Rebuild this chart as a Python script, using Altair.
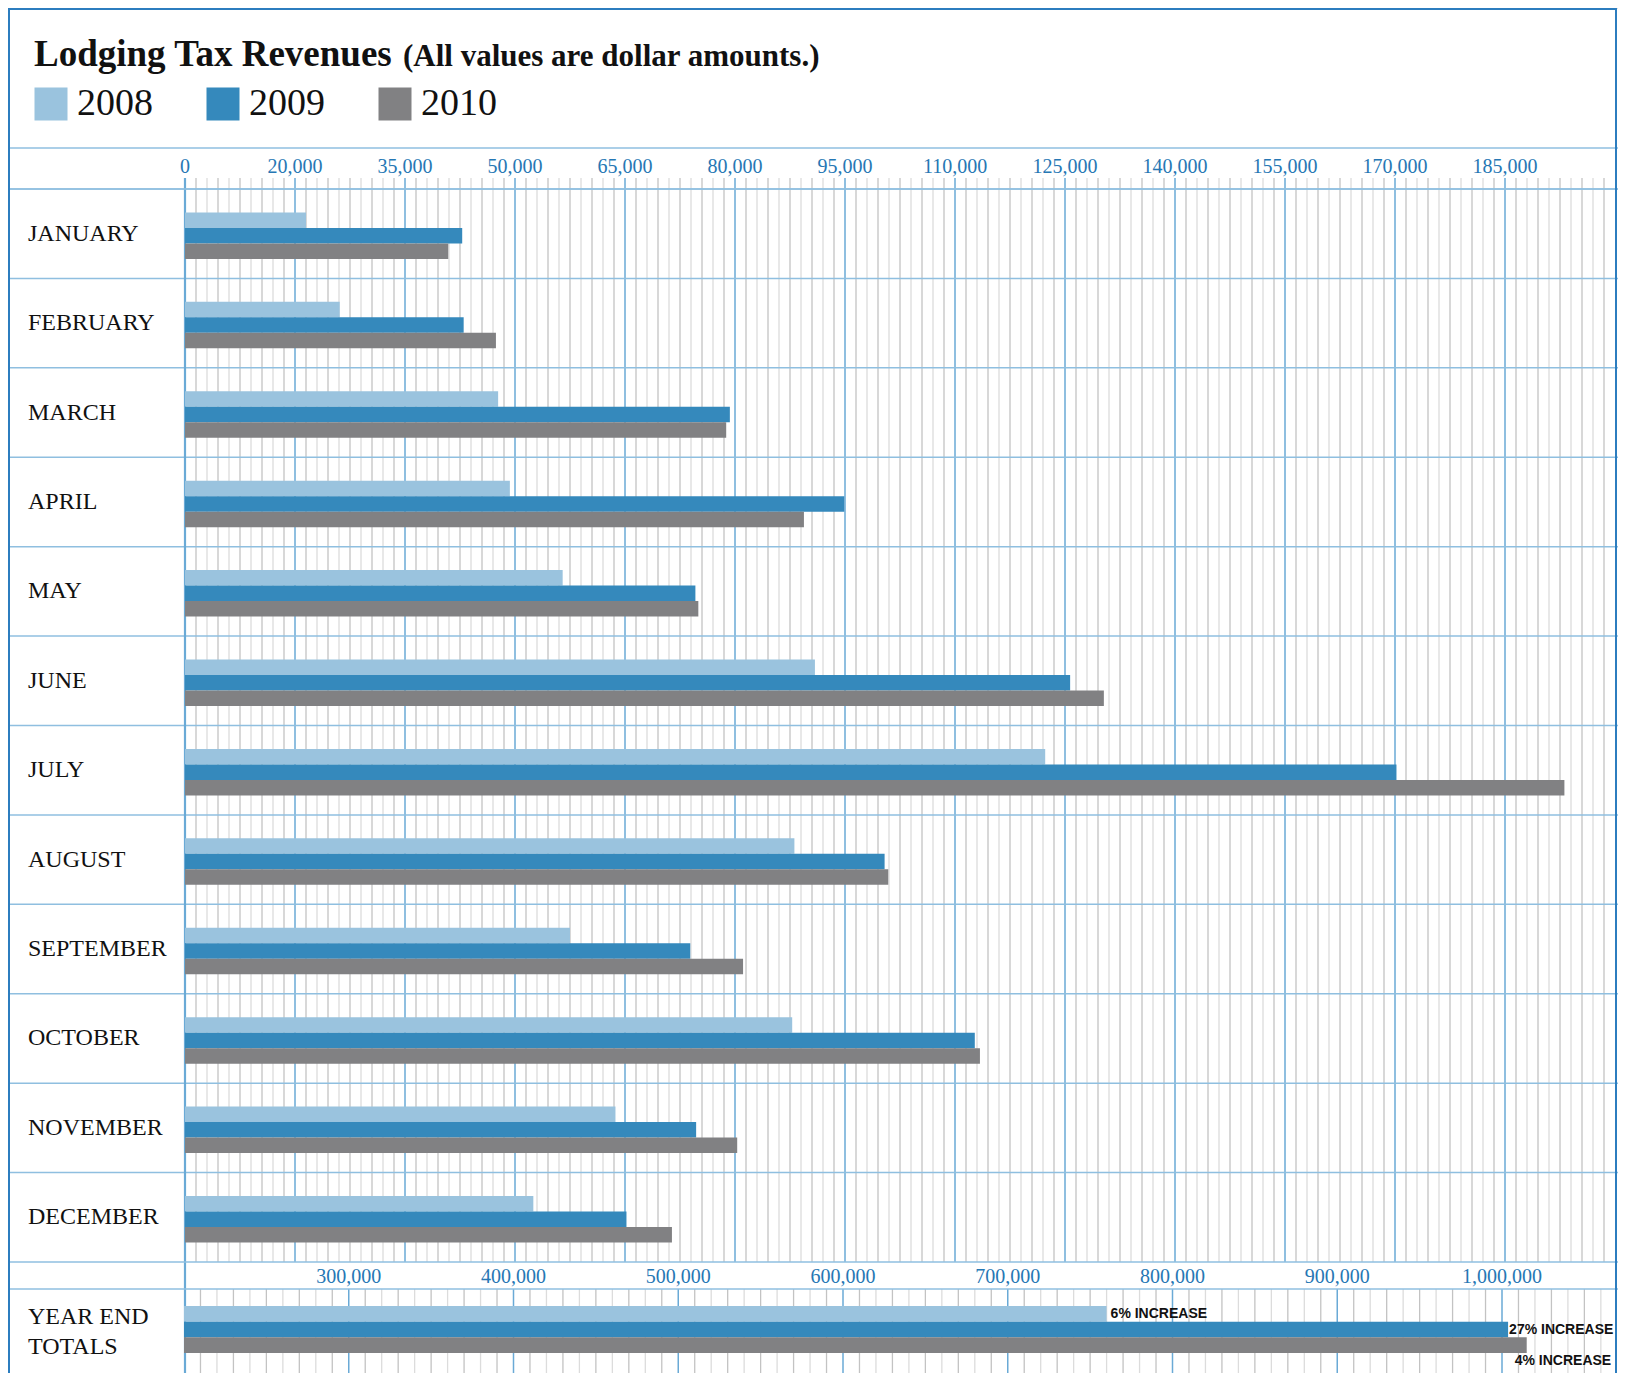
import altair as alt
import pandas as pd

# ---------------- data ----------------
months = ["JANUARY", "FEBRUARY", "MARCH", "APRIL", "MAY", "JUNE", "JULY",
          "AUGUST", "SEPTEMBER", "OCTOBER", "NOVEMBER", "DECEMBER"]
years = ["2008", "2009", "2010"]
rev_2008 = [21500, 26100, 47700, 49300, 56500, 90900, 122300, 88100, 57500, 87800, 63700, 52500]
rev_2009 = [42800, 43000, 79300, 94900, 74600, 125700, 170200, 100400, 73900, 112700, 74700, 65200]
rev_2010 = [40900, 47400, 78800, 89400, 75000, 130300, 193100, 100900, 81100, 113400, 80300, 71400]
year_totals = [760000, 1003700, 1015000]
total_notes = ["6% INCREASE", "27% INCREASE", "4% INCREASE"]
top_tick_labels = [0, 20000, 35000, 50000, 65000, 80000, 95000, 110000,
                   125000, 140000, 155000, 170000, 185000]
bottom_tick_labels = [300000, 400000, 500000, 600000, 700000, 800000, 900000, 1000000]
bar_colors = ["#9ac3de", "#3589bc", "#818183"]

# ---------------- layout / style ----------------
W, H = 1610, 1365
SERIF = "Liberation Serif"
SANS = "Liberation Sans"
BLUE_TXT = "#2677b4"
GRID_MAJOR = "#6aaad6"
MINOR_DARK = "#c3c3c3"
MINOR_LIGHT = "#dcdcdc"
ROW_LINE = "#8fbfe0"
BORDER = "#2c7dbf"

rows = []
for yr, vals in zip(years, [rev_2008, rev_2009, rev_2010]):
    for m, v in zip(months, vals):
        rows.append({"month": m, "year": yr, "value": v})
monthly = pd.DataFrame(rows)
totals_df = pd.DataFrame({"year": years, "total": year_totals, "note": total_notes})

# gridline positions (10 minor steps per major interval)
top_major = top_tick_labels
top_minor = []
edges = top_major + [200000]
for a, b in zip(edges[:-1], edges[1:]):
    step = (b - a) / 10
    for k in range(1, 10):
        top_minor.append((a + k * step, k % 2))
top_minor_a = [v for v, p in top_minor if p == 0]
top_minor_b = [v for v, p in top_minor if p == 1]

bot_major = list(range(200000, 1000001, 100000))
bot_minor = [(v, (v // 10000) % 2) for v in range(210000, 1060001, 10000) if v % 100000 != 0]
bot_minor_a = [v for v, p in bot_minor if p == 0]
bot_minor_b = [v for v, p in bot_minor if p == 1]

x_top = alt.Scale(domain=[0, 20000, 200000], range=[177, 287, 1607], zero=False)
x_bot = alt.Scale(domain=[200000, 1000000], range=[176, 1494], zero=False)
y_month = alt.Scale(domain=months, range=[181, 1254], paddingInner=0, paddingOuter=0)
y_off = alt.Scale(domain=years, range=[23.4, 69.9], paddingInner=0, paddingOuter=0)
y_tot = alt.Scale(domain=years, range=[1298, 1345], paddingInner=0, paddingOuter=0)

legend = alt.Legend(
    title=None, orient="none", legendX=24, legendY=77, direction="horizontal",
    symbolType="square", symbolSize=1089, symbolStrokeWidth=0, symbolOpacity=1,
    labelFont=SERIF, labelFontSize=38, labelColor="#111111", labelOffset=7,
    columnPadding=51, labelLimit=300,
)
color = alt.Color("year:N", scale=alt.Scale(domain=years, range=bar_colors), legend=legend)


def vrules(values, scale, y0, y1, col, width):
    return alt.Chart(pd.DataFrame({"v": values})).mark_rule(color=col, strokeWidth=width).encode(
        x=alt.X("v:Q", scale=scale, axis=None),
        y=alt.value(y0), y2=alt.value(y1))


def hline(y, col, width):
    return alt.Chart(pd.DataFrame({"k": [0]})).mark_rule(color=col, strokeWidth=width).encode(
        x=alt.value(0), x2=alt.value(W), y=alt.value(y))


# ---------------- monthly section ----------------
month_df = pd.DataFrame({"month": months})

m_minor_a = vrules(top_minor_a, x_top, 170, 1254, MINOR_LIGHT, 1.3)
m_minor_b = vrules(top_minor_b, x_top, 170, 1254, MINOR_DARK, 1.3)
m_major = vrules(top_major[1:], x_top, 170, 1254, GRID_MAJOR, 1.5)
m_zero = vrules([0], x_top, 170, H, GRID_MAJOR, 2.2)

sep = alt.Chart(month_df).mark_rule(color=ROW_LINE, strokeWidth=1.5).encode(
    y=alt.Y("month:N", scale=y_month, axis=None, bandPosition=0),
    x=alt.value(0), x2=alt.value(W))

bars = alt.Chart(monthly).mark_bar().encode(
    x=alt.X("value:Q", scale=x_top, axis=None),
    x2=alt.datum(0),
    y=alt.Y("month:N", scale=y_month, axis=None),
    yOffset=alt.YOffset("year:N", scale=y_off),
    color=color,
)

month_labels = alt.Chart(month_df).mark_text(
    align="left", baseline="middle", font=SERIF, fontSize=24, color="#111111"
).encode(
    y=alt.Y("month:N", scale=y_month, axis=None),
    x=alt.value(20),
    text="month:N",
)

top_labels = alt.Chart(pd.DataFrame({"t": top_tick_labels})).mark_text(
    align="center", baseline="alphabetic", font=SERIF, fontSize=20, color=BLUE_TXT
).encode(
    x=alt.X("t:Q", scale=x_top, axis=None),
    y=alt.value(165),
    text=alt.Text("t:Q", format=","),
)

monthly_section = alt.layer(m_minor_a, m_minor_b, m_major, sep, m_zero, bars,
                            month_labels, top_labels)

# ---------------- totals section ----------------
b_minor_a = vrules(bot_minor_a, x_bot, 1281, H, MINOR_LIGHT, 1.3)
b_minor_b = vrules(bot_minor_b, x_bot, 1281, H, MINOR_DARK, 1.3)
b_major = vrules(bot_major[1:], x_bot, 1281, H, GRID_MAJOR, 1.5)

tot_bars = alt.Chart(totals_df).mark_bar().encode(
    x=alt.X("total:Q", scale=x_bot, axis=None),
    x2=alt.datum(200000),
    y=alt.Y("year:N", scale=y_tot, axis=None),
    color=color,
)


def note(year, dx, dy):
    return alt.Chart(totals_df).transform_filter(alt.datum.year == year).mark_text(
        align="left", baseline="middle", font=SANS, fontWeight="bold",
        fontSize=14, color="#111111", dx=dx, dy=dy
    ).encode(
        x=alt.X("total:Q", scale=x_bot, axis=None),
        y=alt.Y("year:N", scale=y_tot, axis=None),
        text="note:N",
    )


bottom_labels = alt.Chart(pd.DataFrame({"t": bottom_tick_labels})).mark_text(
    align="center", baseline="alphabetic", font=SERIF, fontSize=20, color=BLUE_TXT
).encode(
    x=alt.X("t:Q", scale=x_bot, axis=None),
    y=alt.value(1275),
    text=alt.Text("t:Q", format=","),
)

totals_section = alt.layer(b_minor_a, b_minor_b, b_major, tot_bars,
                           note("2008", 4, 0), note("2009", 1, 0), note("2010", -12, 16),
                           bottom_labels)

# ---------------- decoration ----------------
title_main = alt.Chart(pd.DataFrame({"k": [0]})).mark_text(
    align="left", baseline="alphabetic", font=SERIF, fontWeight="bold",
    fontSize=37, color="#111111"
).encode(x=alt.value(26), y=alt.value(58), text=alt.value("Lodging Tax Revenues"))

title_sub = alt.Chart(pd.DataFrame({"k": [0]})).mark_text(
    align="left", baseline="alphabetic", font=SERIF, fontWeight="bold",
    fontSize=31, color="#111111"
).encode(x=alt.value(395), y=alt.value(58), text=alt.value("(All values are dollar amounts.)"))

totals_caption = alt.Chart(pd.DataFrame({"k": [0]})).mark_text(
    align="left", baseline="middle", font=SERIF, fontSize=24, color="#111111",
    lineBreak="\n", lineHeight=30
).encode(x=alt.value(20), y=alt.value(1309), text=alt.value("YEAR END\nTOTALS"))

lines = alt.layer(
    hline(140, ROW_LINE, 1.5),
    hline(181, ROW_LINE, 1.5),
    hline(1254, ROW_LINE, 1.5),
    hline(1281, ROW_LINE, 1.5),
)

border = alt.layer(
    alt.Chart(pd.DataFrame({"k": [0]})).mark_rule(color=BORDER, strokeWidth=2).encode(
        x=alt.value(1), y=alt.value(0), y2=alt.value(H)),
    alt.Chart(pd.DataFrame({"k": [0]})).mark_rule(color=BORDER, strokeWidth=2).encode(
        x=alt.value(1608), y=alt.value(0), y2=alt.value(H)),
    alt.Chart(pd.DataFrame({"k": [0]})).mark_rule(color=BORDER, strokeWidth=2).encode(
        x=alt.value(0), x2=alt.value(1609), y=alt.value(1)),
)

chart = alt.layer(
    monthly_section, totals_section, lines, title_main, title_sub, totals_caption, border
).resolve_scale(
    x="independent", y="independent"
).properties(
    width=W, height=H, padding=0,
    autosize=alt.AutoSizeParams(type="none"),
).configure_view(
    stroke="transparent"
).configure_legend(
    labelFont=SERIF, labelFontSize=38, labelColor="#111111"
).configure(
    background="white"
)

chart.save("out.html", embed_options={"renderer": "svg", "actions": False})
